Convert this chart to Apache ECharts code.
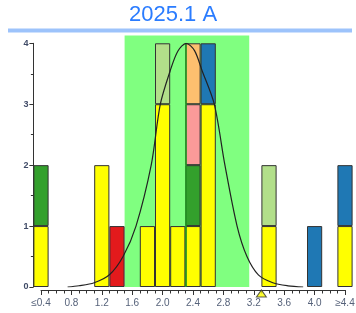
<!DOCTYPE html>
<html>
<head>
<meta charset="utf-8">
<script src="https://cdn.jsdelivr.net/npm/echarts@6/dist/echarts.min.js"></script>
<style>
  html, body { margin: 0; padding: 0; background: #fff; }
  #main { width: 356px; height: 313px; }
</style>
</head>
<body>
<div id="main"></div>
<script>
// histogram bins (centre of each 0.2 wide bin)
const bins = [0.4, 0.6, 0.8, 1.0, 1.2, 1.4, 1.6, 1.8, 2.0, 2.2, 2.4, 2.6, 2.8, 3.0, 3.2, 3.4, 3.6, 3.8, 4.0, 4.2, 4.4];

// stacked counts per bin, bottom to top
const yellow     = [1, 0, 0, 0, 2, 0, 0, 1, 3, 1, 1, 3, 0, 0, 0, 1, 0, 0, 0, 0, 1];
const darkGreen  = [1, 0, 0, 0, 0, 0, 0, 0, 0, 0, 1, 0, 0, 0, 0, 0, 0, 0, 0, 0, 0];
const lightGreen = [0, 0, 0, 0, 0, 0, 0, 0, 1, 0, 0, 0, 0, 0, 0, 1, 0, 0, 0, 0, 0];
const red        = [0, 0, 0, 0, 0, 1, 0, 0, 0, 0, 0, 0, 0, 0, 0, 0, 0, 0, 0, 0, 0];
const pink       = [0, 0, 0, 0, 0, 0, 0, 0, 0, 0, 1, 0, 0, 0, 0, 0, 0, 0, 0, 0, 0];
const orange     = [0, 0, 0, 0, 0, 0, 0, 0, 0, 0, 1, 0, 0, 0, 0, 0, 0, 0, 0, 0, 0];
const blue       = [0, 0, 0, 0, 0, 0, 0, 0, 0, 0, 0, 1, 0, 0, 0, 0, 0, 0, 1, 0, 1];

// fitted curve
const curveX = [0.75, 0.9, 1.1, 1.3, 1.48, 1.65, 1.85, 1.97, 2.1, 2.2, 2.31, 2.42, 2.52, 2.68, 2.82, 2.98, 3.11, 3.26, 3.45, 3.65, 3.85];
const curveY = [0.0, 0.02, 0.07, 0.2, 0.5, 1.0, 2.0, 3.0, 3.55, 3.87, 4.0, 3.88, 3.55, 3.0, 2.0, 1.0, 0.5, 0.2, 0.07, 0.02, 0.0];

const meanX = 2.31;          // green vertical line
const bandRange = [1.5, 3.14, 4.13]; // green tolerance band: from, to, top
const markerX = 3.3;         // yellow triangle on the axis

const xTickLabels = ['≤0.4', '0.8', '1.2', '1.6', '2.0', '2.4', '2.8', '3.2', '3.6', '4.0', '≥4.4'];
const yTicks = [0, 1, 2, 3, 4];

const chart = echarts.init(document.getElementById('main'));

function barSeries(name, arr, color) {
  return {
    name: name,
    type: 'bar',
    stack: 'all',
    xAxisIndex: 0,
    yAxisIndex: 0,
    barCategoryGap: '0%',
    clip: false,
    z: 3,
    itemStyle: { color: color, borderColor: '#333', borderWidth: 1 },
    data: arr.map(v => v ? v : '-')
  };
}

const option = {
  animation: false,
  textStyle: { fontFamily: 'Liberation Sans, Arial, sans-serif' },
  title: {
    text: '2025.1 A',
    left: 129,
    top: 4,
    padding: 0,
    textStyle: { color: '#2a7cff', fontSize: 22, fontWeight: 'normal', fontFamily: 'Liberation Sans' }
  },
  graphic: [{
    type: 'rect',
    shape: { x: 8, y: 28.5, width: 344, height: 4 },
    style: { fill: '#9dc3fb' }
  }],
  grid: { left: 41, right: 11, top: 43.3, bottom: 26, containLabel: false, outerBoundsMode: 'none' },
  xAxis: [{
    type: 'category',
    data: bins.map(b => b.toFixed(1)),
    boundaryGap: false,
    show: false
  }, {
    type: 'value',
    min: 0.4,
    max: 4.4,
    interval: 0.4,
    offset: 3,
    position: 'bottom',
    name: '%',
    nameLocation: 'middle',
    nameGap: 17,
    nameTextStyle: { fontSize: 6, color: '#556' },
    splitLine: { show: false },
    axisLine: { lineStyle: { color: '#333', width: 1 } },
    axisTick: { length: 5, lineStyle: { color: '#333' } },
    minorTick: { show: true, splitNumber: 4, length: 3.5, lineStyle: { color: '#333' } },
    axisLabel: {
      color: '#56627a',
      fontSize: 10,
      margin: 8,
      formatter: v => xTickLabels[Math.round((v - 0.4) / 0.4)]
    }
  }],
  yAxis: {
    type: 'value',
    min: yTicks[0],
    max: yTicks[yTicks.length - 1],
    interval: 1,
    offset: 7.6,
    splitLine: { show: false },
    axisLine: { show: true, lineStyle: { color: '#333', width: 1 } },
    axisTick: { show: true, length: 4, lineStyle: { color: '#333' } },
    minorTick: { show: true, splitNumber: 2, length: 2.5, lineStyle: { color: '#333' } },
    axisLabel: { color: '#3f4a66', fontSize: 9, fontWeight: 'bold', margin: 5 }
  },
  series: [
    {
      type: 'custom',
      xAxisIndex: 1,
      yAxisIndex: 0,
      z: 1,
      silent: true,
      encode: { x: [0, 1], y: 2 },
      renderItem: function (params, api) {
        const p0 = api.coord([api.value(0), 0]);
        const p1 = api.coord([api.value(1), api.value(2)]);
        return {
          type: 'rect',
          shape: { x: p0[0], y: p1[1], width: p1[0] - p0[0], height: p0[1] - p1[1] },
          style: { fill: '#80ff80' }
        };
      },
      data: [bandRange]
    },
    barSeries('yellow', yellow, '#ffff00'),
    barSeries('darkGreen', darkGreen, '#33a02c'),
    barSeries('lightGreen', lightGreen, '#b2df8a'),
    barSeries('red', red, '#e31a1c'),
    barSeries('pink', pink, '#fb9a99'),
    barSeries('orange', orange, '#fdbf6f'),
    barSeries('blue', blue, '#1f78b4'),
    {
      type: 'line',
      xAxisIndex: 1,
      yAxisIndex: 0,
      smooth: 0.3,
      symbol: 'none',
      z: 5,
      lineStyle: { color: '#222', width: 1.2 },
      data: curveX.map((x, i) => [x, curveY[i]]),
      markLine: {
        silent: true,
        symbol: 'none',
        label: { show: false },
        lineStyle: { color: '#1f9a1f', width: 1.5, type: 'solid' },
        data: [[{ coord: [meanX, 0] }, { coord: [meanX, 4] }]]
      }
    },
    {
      type: 'scatter',
      xAxisIndex: 1,
      yAxisIndex: 0,
      clip: false,
      z: 6,
      symbol: 'triangle',
      symbolSize: [10, 7],
      symbolOffset: [0, 6.5],
      itemStyle: { color: '#ffff00', borderColor: '#333', borderWidth: 1 },
      data: [[markerX, 0]]
    }
  ]
};

chart.setOption(option);
</script>
</body>
</html>
